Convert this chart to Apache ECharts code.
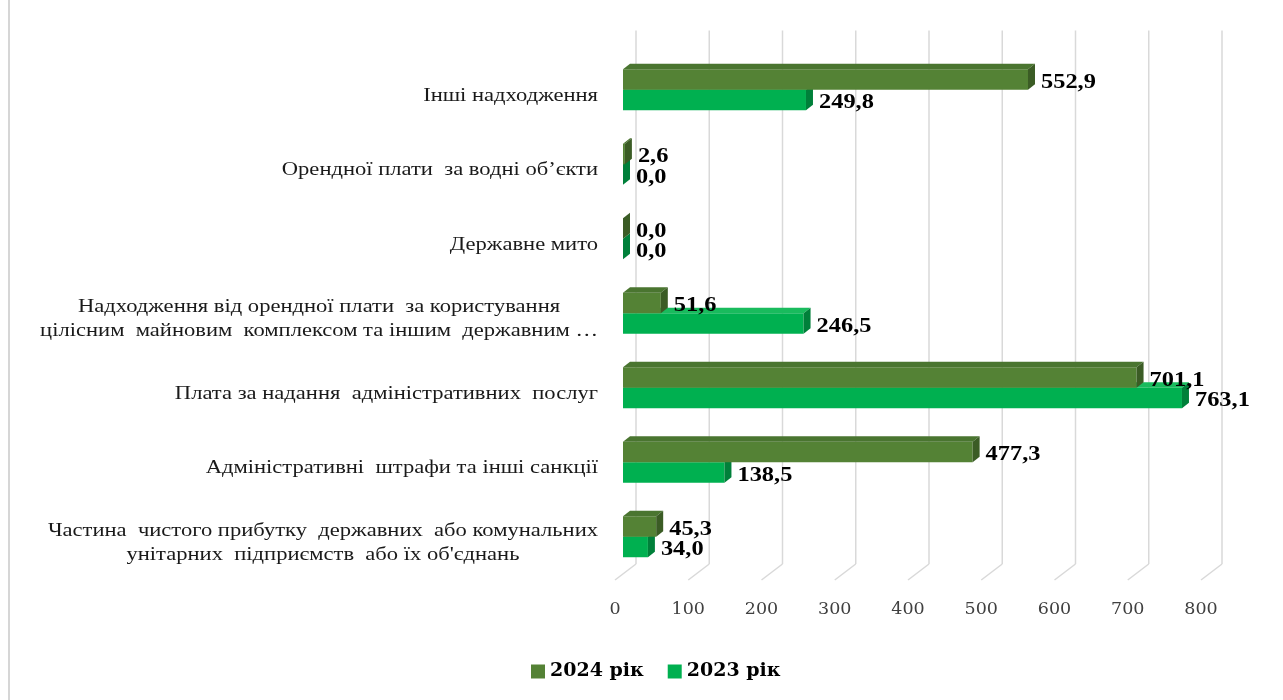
<!DOCTYPE html>
<html>
<head>
<meta charset="utf-8">
<script src="https://cdn.jsdelivr.net/npm/echarts@6/dist/echarts.min.js"></script>
<style>
html,body{margin:0;padding:0;background:#fff;}
#chart{width:1283px;height:700px;}
</style>
</head>
<body>
<div id="chart"></div>
<script>
// ---- data (bottom category first) ----
const categories = [
  "Частина  чистого прибутку  державних  або комунальних\nунітарних  підприємств  або їх об'єднань",
  "Адміністративні  штрафи та інші санкції",
  "Плата за надання  адміністративних  послуг",
  "Надходження від орендної плати  за користування\nцілісним  майновим  комплексом та іншим  державним …",
  "Державне мито",
  "Орендної плати  за водні об’єкти",
  "Інші надходження"
];
const values2024 = [45.3, 477.3, 701.1, 51.6, 0.0, 2.6, 552.9];
const values2023 = [34.0, 138.5, 763.1, 246.5, 0.0, 0.0, 249.8];
const xTicks = [0, 100, 200, 300, 400, 500, 600, 700, 800];
const seriesNames = ["2024 рік", "2023 рік"];

// ---- styles ----
const DEPTH_X = 7, DEPTH_Y = 5.5;      // bar depth
const SHIFT_X = 8, SHIFT_Y = 6;        // bar position inside the 3D box
const WALL_X = 21, WALL_Y = 16;        // back wall offset
const TEXT_SCALE = 1.22;
const catFont = '18.5px "Liberation Serif"';
const valFont = 'bold 20px "Liberation Serif"';

const measureCtx = document.createElement('canvas').getContext('2d');
function maxLineWidth(text, font) {
  measureCtx.font = font;
  return Math.max.apply(null, text.split('\n').map(l => measureCtx.measureText(l).width));
}
function fmt(v) { return v.toFixed(1).replace('.', ','); }

function barRenderer(upper, cFront, cTop, cSide) {
  return function (params, api) {
    const v = api.value(0), cat = api.value(1);
    const base = api.coord([0, cat]);
    const end = api.coord([v, cat]);
    const band = api.size([0, 1])[1];
    const h = band * 0.275;
    const x0 = base[0] + SHIFT_X, x1 = end[0] + SHIFT_X;
    const cy = base[1] - SHIFT_Y;
    const yTop = upper ? cy - h : cy;
    const yBot = upper ? cy : cy + h;
    return {
      type: 'group',
      children: [
        { type: 'rect', shape: { x: x0, y: yTop, width: Math.max(x1 - x0, 0), height: h },
          style: { fill: cFront } },
        { type: 'polygon', shape: { points: [[x0, yTop], [x1, yTop], [x1 + DEPTH_X, yTop - DEPTH_Y], [x0 + DEPTH_X, yTop - DEPTH_Y]] },
          style: { fill: cTop } },
        { type: 'polygon', shape: { points: [[x1, yTop], [x1 + DEPTH_X, yTop - DEPTH_Y], [x1 + DEPTH_X, yBot - DEPTH_Y], [x1, yBot]] },
          style: { fill: cSide } },
        { type: 'text', x: x1 + DEPTH_X + 6, y: (yTop + yBot) / 2 + 3, scaleX: TEXT_SCALE,
          z2: 10,
          style: { text: fmt(v), font: valFont, fill: '#000', align: 'left', verticalAlign: 'middle' } }
      ]
    };
  };
}

const chart = echarts.init(document.getElementById('chart'), null, { renderer: 'canvas' });

const option = {
  backgroundColor: '#ffffff',
  animation: false,
  grid: { left: 615, right: 82, top: 58.5, bottom: 120 },
  xAxis: {
    type: 'value', min: 0, max: 800, interval: 100,
    axisLine: { show: false }, axisTick: { show: false }, splitLine: { show: false },
    axisLabel: { margin: 20, fontFamily: 'DejaVu Serif', fontSize: 17.5, color: '#404040',
      formatter: v => (xTicks.indexOf(v) >= 0 ? String(v) : '') }
  },
  yAxis: {
    type: 'category', data: categories,
    axisLine: { show: false }, axisTick: { show: false }, axisLabel: { show: false }, splitLine: { show: false }
  },
  legend: {
    data: [{ name: seriesNames[0], icon: 'rect' }, { name: seriesNames[1], icon: 'rect' }],
    left: 526, top: 657, itemWidth: 14, itemHeight: 14, itemGap: 24,
    textStyle: { fontFamily: 'DejaVu Serif', fontWeight: 'bold', fontSize: 19, color: '#000' }
  },
  graphic: [
    { type: 'line', shape: { x1: 9, y1: 0, x2: 9, y2: 700 }, style: { stroke: '#d6d6d6', lineWidth: 2 } }
  ],
  series: [
    {
      type: 'custom', name: 'grid', silent: true, z: 0,
      data: xTicks.map(t => [t, 0]),
      encode: { x: 0, y: 1 },
      renderItem: function (params, api) {
        const x = api.coord([api.value(0), 0])[0];
        const cs = params.coordSys;
        const yb = cs.y + cs.height;
        const st = { stroke: '#d9d9d9', lineWidth: 1.5 };
        return { type: 'group', children: [
          { type: 'line', shape: { x1: x + WALL_X, y1: yb - WALL_Y, x2: x + WALL_X, y2: cs.y - 28 }, style: st },
          { type: 'line', shape: { x1: x, y1: yb, x2: x + WALL_X, y2: yb - WALL_Y }, style: st }
        ] };
      }
    },
    {
      type: 'custom', name: 'labels', silent: true, z: 1,
      data: categories.map((c, i) => [0, i]),
      encode: { x: 0, y: 1 },
      renderItem: function (params, api) {
        const cs = params.coordSys;
        const cy = api.coord([0, api.value(1)])[1];
        const text = categories[params.dataIndex];
        const w = maxLineWidth(text, catFont);
        return { type: 'text', x: cs.x - 17, y: cy, scaleX: TEXT_SCALE,
          style: { text: text, x: -w / 2, y: 0, font: catFont, fill: '#1a1a1a',
            align: 'center', verticalAlign: 'middle', lineHeight: 24 } };
      }
    },
    {
      type: 'custom', name: seriesNames[1], z: 2,
      itemStyle: { color: '#00b050' },
      data: values2023.map((v, i) => [v, i]),
      encode: { x: 0, y: 1 },
      renderItem: barRenderer(false, '#00b050', '#19bb5d', '#00803a')
    },
    {
      type: 'custom', name: seriesNames[0], z: 3,
      itemStyle: { color: '#548235' },
      data: values2024.map((v, i) => [v, i]),
      encode: { x: 0, y: 1 },
      renderItem: barRenderer(true, '#548235', '#4a7530', '#3b5c25')
    }
  ]
};
chart.setOption(option);
</script>
</body>
</html>
